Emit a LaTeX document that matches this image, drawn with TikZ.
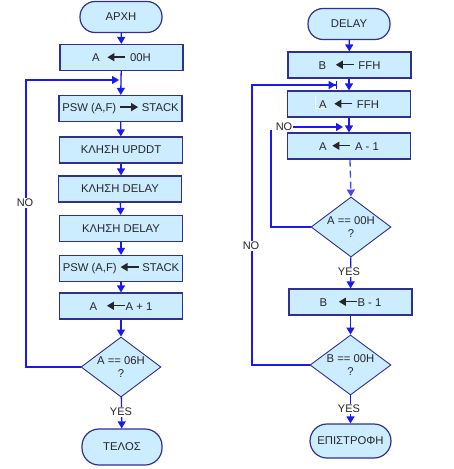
\documentclass[tikz,border=0pt]{standalone}
\usepackage{fontspec}
\setmainfont{Liberation Sans}
\usetikzlibrary{shapes.geometric,arrows.meta}
\definecolor{boxfill}{HTML}{CCECFF}
\definecolor{boxline}{HTML}{2E3192}
\definecolor{arrblue}{HTML}{1A1AF0}
\definecolor{txt}{HTML}{262626}
\newcommand{\lar}{\tikz[baseline=-0.5pt]\draw[line width=1.4pt,-{Triangle[length=7pt,width=8pt]}] (18pt,4pt) -- (0,4pt);}
\newcommand{\rar}{\tikz[baseline=-0.5pt]\draw[line width=1.4pt,-{Triangle[length=7pt,width=8pt]}] (0,4pt) -- (18pt,4pt);}
\tikzset{
  base/.style={draw=boxline, fill=boxfill, line width=1.2pt, text=txt, font=\fontsize{11.3}{13}\selectfont, inner sep=0pt},
  procbox/.style={base, rectangle, minimum width=123pt, minimum height=26pt},
  termbox/.style={base, rectangle, rounded corners=15pt, minimum width=82pt, minimum height=31pt},
  decbox/.style={base, diamond, minimum width=80pt, minimum height=60pt, aspect=1.33, line width=0.9pt, align=center},
  flow/.style={draw=arrblue, line width=1.3pt, -{Triangle[length=7pt,width=8pt]}},
  plain/.style={draw=arrblue, line width=1.3pt},
  lbl/.style={fill=white, text=txt, font=\fontsize{11}{13}\selectfont, inner sep=1pt}
}
\begin{document}
\begin{tikzpicture}[x=1pt,y=-1pt]
\useasboundingbox (0,0) rectangle (453,469);
% left column
\node[termbox] (start) at (121,17) {ΑΡΧΗ};
\node[procbox] (a1) at (121.5,57.5) {A\hspace{7pt}\lar\hspace{4pt}00H};
\node[procbox] (a2) at (120.5,108.5) {PSW (A,F) \rar\ STACK};
\node[procbox] (a3) at (121,150) {ΚΛΗΣΗ UPDDT};
\node[procbox] (a4) at (120,189) {ΚΛΗΣΗ DELAY};
\node[procbox] (a5) at (121,228.5) {ΚΛΗΣΗ DELAY};
\node[procbox] (a6) at (121,268.5) {PSW (A,F) \lar\ STACK};
\node[procbox] (a7) at (121,306) {A\hspace{9pt}\lar A + 1};
\node[decbox] (d1) at (121,367) {A == 06H\\?};
\node[termbox, minimum height=36pt, minimum width=80pt, rounded corners=17pt] (stop) at (122,447) {ΤΕΛΟΣ};
\coordinate (j1) at (121,80);
\coordinate (la) at (26,367);
\coordinate (lb) at (26,80);
\coordinate (lc) at (119,80);
\draw[flow] (start) -- (a1);
\draw[plain] (a1) -- (j1);
\draw[flow] (j1) -- (a2);
\draw[flow] (a2) -- (a3);
\draw[flow] (a3.south -| a4.north) ++(1,0) -- ([xshift=1pt]a4.north);
\draw[flow] (a4) -- (a5);
\draw[flow] (a5) -- (a6);
\draw[flow] (a6) -- (a7);
\draw[flow] (a7) -- (d1);
\draw[flow] (d1) -- (stop);
\draw[flow] (d1.west) -- (la) -- (lb) -- (lc);
\node[lbl] at (25,203) {NO};
\node[lbl] at (121,412) {YES};
% right column
\node[termbox] (dly) at (349,24) {DELAY};
\node[procbox] (b1) at (349.5,65) {B\hspace{9pt}\lar\hspace{4pt}FFH};
\node[procbox] (b2) at (349,104) {A\hspace{7pt}\lar\hspace{4pt}FFH};
\node[procbox] (b3) at (349,146) {A\hspace{5pt}\lar\hspace{4pt}A - 1};
\node[decbox] (e1) at (351,227) {A == 00H\\?};
\node[procbox] (b4) at (350.5,302) {B\hspace{11pt}\lar B - 1};
\node[decbox, minimum width=81pt] (e2) at (350.5,365) {B == 00H\\?};
\node[termbox, minimum height=34pt, minimum width=81pt, rounded corners=17pt] (ret) at (350.5,441) {ΕΠΙΣΤΡΟΦΗ};
\draw[white, line width=1pt] (315,96) -- (315,108) -- (327,108);
\draw[flow] (dly) -- (b1);
\draw[flow] ([xshift=-0.5pt]b1.south) -- (b2);
\draw[flow] (b2) -- (b3);
\draw[flow, dash pattern=on 7pt off 4pt, draw=arrblue!80] ([xshift=1pt]b3.south) -- (e1.north);
\draw[flow] (e1) -- (b4);
\draw[flow] (b4) -- (e2);
\draw[flow] (e2) -- (ret);
\coordinate (ra) at (252,365);
\coordinate (rb) at (252,85);
\coordinate (rc) at (337,85);
\draw[draw=arrblue, line width=1.3pt, -{Triangle[length=7pt,width=8pt]Bar[width=8pt]}] (e2.west) -- (ra) -- (rb) -- (rc);
\coordinate (na) at (271,227);
\coordinate (nb) at (271,130);
\draw[plain] (e1.west) -- (na) -- (nb);
\node[text=txt, font=\fontsize{11}{13}\selectfont, inner sep=1pt] (no2) at (284,127) {NO};
\coordinate (nc) at (343,127);
\draw[flow] (no2.east) -- (nc);
\node[lbl] at (251,246) {NO};
\node[lbl] at (349,272) {YES};
\node[lbl] at (349,409) {YES};
\end{tikzpicture}
\end{document}
